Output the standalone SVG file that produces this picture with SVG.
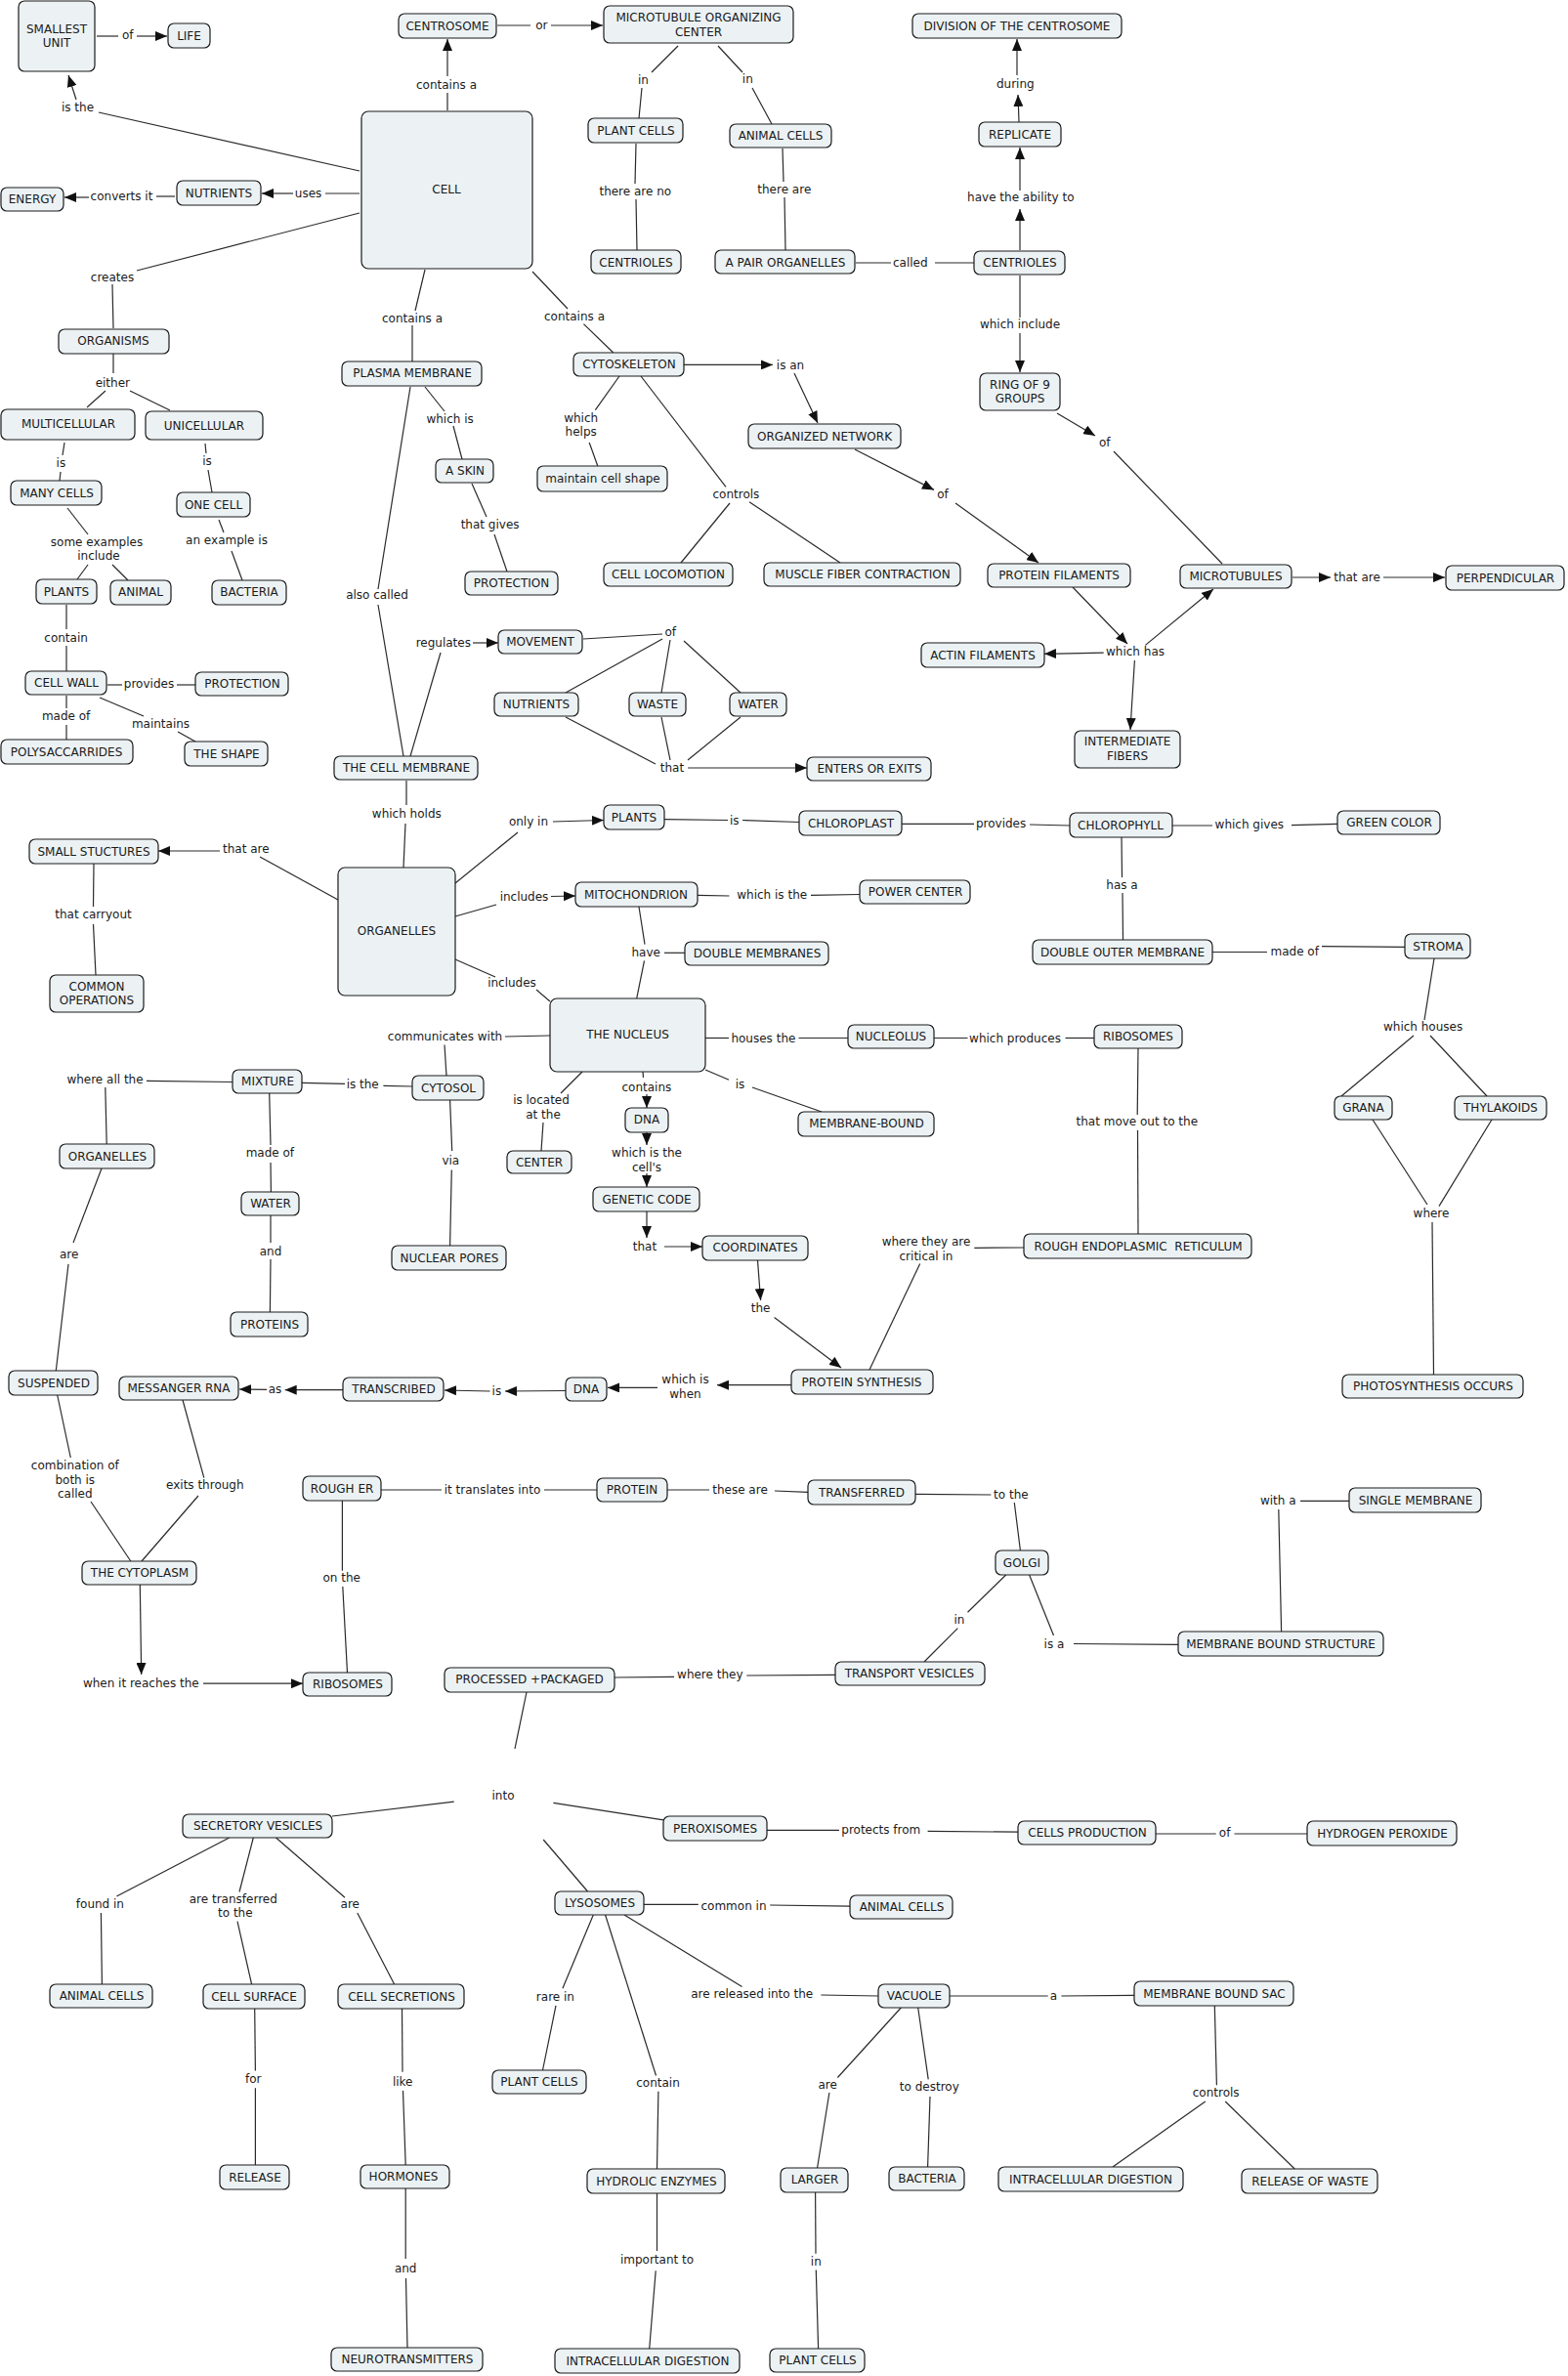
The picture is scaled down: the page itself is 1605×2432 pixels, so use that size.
<svg xmlns="http://www.w3.org/2000/svg" width="1605" height="2432" viewBox="0 0 1605 2432">
<style>
.n rect{fill:#ECF2F4;stroke:#1a1a1a;stroke-width:1.2}
text{font-family:"DejaVu Sans",Verdana,sans-serif;font-size:12px;fill:#1a1a1a;text-anchor:middle}
#connectors line{stroke:#2a2a2a;stroke-width:1.2;fill:none}
#connectors line.a{marker-end:url(#ah)}
</style>
<defs>
<marker id="ah" viewBox="0 0 12 10" refX="12" refY="5" markerWidth="12" markerHeight="10" markerUnits="userSpaceOnUse" orient="auto"><path d="M0,0 L12,5 L0,10 z" fill="#111"/></marker>
</defs>
<rect width="1605" height="2432" fill="#fff"/>
<g id="connectors">
<line x1="99" y1="37" x2="121" y2="37"/><line class="a" x1="140" y1="37" x2="171" y2="37"/>
<line x1="368" y1="175" x2="101" y2="115"/><line class="a" x1="78" y1="102" x2="70" y2="77"/>
<line x1="368" y1="198" x2="333" y2="198"/><line class="a" x1="300" y1="198" x2="268" y2="198"/>
<line x1="179" y1="201" x2="160" y2="201"/><line class="a" x1="91" y1="202" x2="66" y2="202"/>
<line x1="368" y1="218" x2="140" y2="277"/><line x1="115" y1="291" x2="116" y2="336"/>
<line x1="116" y1="362" x2="116" y2="382"/><line x1="108" y1="400" x2="89" y2="417"/><line x1="133" y1="400" x2="174" y2="420"/>
<line x1="66" y1="453" x2="64" y2="466"/><line x1="62" y1="483" x2="61" y2="492"/>
<line x1="210" y1="454" x2="211" y2="464"/><line x1="213" y1="481" x2="217" y2="504"/>
<line x1="69" y1="520" x2="90" y2="547"/><line x1="90" y1="578" x2="79" y2="593"/><line x1="115" y1="578" x2="131" y2="594"/>
<line x1="224" y1="532" x2="229" y2="545"/><line x1="237" y1="564" x2="248" y2="594"/>
<line x1="68" y1="619" x2="68" y2="644"/><line x1="68" y1="661" x2="68" y2="687"/>
<line x1="110" y1="701" x2="125" y2="701"/><line x1="181" y1="701" x2="200" y2="701"/>
<line x1="68" y1="712" x2="68" y2="725"/><line x1="68" y1="742" x2="68" y2="757"/>
<line x1="102" y1="714" x2="147" y2="733"/><line x1="182" y1="749" x2="200" y2="759"/>
<line x1="458" y1="113" x2="458" y2="95"/><line class="a" x1="458" y1="78" x2="458" y2="40"/>
<line x1="509" y1="26" x2="543" y2="26"/><line class="a" x1="564" y1="26" x2="617" y2="26"/>
<line x1="694" y1="47" x2="667" y2="74"/><line x1="657" y1="90" x2="654" y2="121"/>
<line x1="735" y1="47" x2="760" y2="74"/><line x1="770" y1="90" x2="790" y2="127"/>
<line x1="651" y1="147" x2="650" y2="188"/><line x1="651" y1="204" x2="652" y2="256"/>
<line x1="801" y1="152" x2="802" y2="186"/><line x1="803" y1="202" x2="804" y2="256"/>
<line x1="876" y1="269" x2="912" y2="269"/><line x1="957" y1="269" x2="997" y2="269"/>
<line class="a" x1="1044" y1="256" x2="1044" y2="214"/><line class="a" x1="1044" y1="195" x2="1044" y2="151"/>
<line class="a" x1="1043" y1="125" x2="1042" y2="97"/><line class="a" x1="1041" y1="77" x2="1041" y2="40"/>
<line x1="1044" y1="282" x2="1044" y2="325"/><line class="a" x1="1044" y1="341" x2="1044" y2="381"/>
<line class="a" x1="1082" y1="423" x2="1121" y2="446"/><line x1="1140" y1="462" x2="1251" y2="577"/>
<line class="a" x1="1323" y1="591" x2="1362" y2="591"/><line class="a" x1="1416" y1="591" x2="1479" y2="591"/>
<line x1="435" y1="276" x2="425" y2="318"/><line x1="422" y1="333" x2="422" y2="370"/>
<line x1="435" y1="396" x2="455" y2="421"/><line x1="464" y1="436" x2="473" y2="470"/>
<line x1="483" y1="495" x2="498" y2="529"/><line x1="506" y1="547" x2="519" y2="585"/>
<line x1="420" y1="396" x2="387" y2="603"/><line x1="387" y1="619" x2="413" y2="774"/>
<line x1="420" y1="774" x2="451" y2="668"/><line class="a" x1="484" y1="658" x2="510" y2="658"/>
<line x1="597" y1="654" x2="678" y2="649"/><line x1="678" y1="654" x2="579" y2="709"/>
<line x1="686" y1="655" x2="677" y2="709"/><line x1="700" y1="656" x2="758" y2="709"/>
<line x1="579" y1="734" x2="671" y2="782"/><line x1="677" y1="734" x2="686" y2="778"/><line x1="758" y1="734" x2="704" y2="778"/>
<line class="a" x1="704" y1="786" x2="826" y2="786"/>
<line x1="416" y1="799" x2="416" y2="824"/><line x1="415" y1="843" x2="413" y2="888"/>
<line x1="346" y1="921" x2="266" y2="877"/><line class="a" x1="225" y1="871" x2="162" y2="871"/>
<line x1="96" y1="884" x2="95.5" y2="928"/><line x1="95.5" y1="946" x2="98" y2="998"/>
<line x1="466" y1="904" x2="530" y2="852"/><line class="a" x1="566" y1="841" x2="618" y2="839.5"/>
<line x1="680" y1="838.7" x2="745" y2="839.5"/><line x1="760" y1="839.5" x2="818" y2="841.5"/>
<line x1="923" y1="843.4" x2="997" y2="843.4"/><line x1="1054" y1="844" x2="1095" y2="845"/>
<line x1="1200" y1="845" x2="1241" y2="845"/><line x1="1322" y1="844.6" x2="1369" y2="843.4"/>
<line x1="1148" y1="857" x2="1148.5" y2="898"/><line x1="1149" y1="914" x2="1149.5" y2="962"/>
<line x1="1241" y1="974.5" x2="1297" y2="974.5"/><line x1="1353" y1="968.7" x2="1438" y2="969.4"/>
<line x1="1468" y1="981" x2="1458" y2="1044"/><line x1="1447" y1="1060" x2="1373" y2="1122"/><line x1="1464" y1="1060" x2="1522" y2="1122"/>
<line x1="1405" y1="1146" x2="1461" y2="1233"/><line x1="1527" y1="1146" x2="1473" y2="1234.6"/>
<line x1="1466" y1="1251" x2="1467.5" y2="1407"/>
<line x1="466" y1="938" x2="508" y2="926"/><line class="a" x1="564" y1="917.5" x2="589" y2="917"/>
<line x1="714" y1="916.3" x2="746.5" y2="917"/><line x1="830" y1="916.3" x2="880" y2="915.5"/>
<line x1="654" y1="928" x2="660" y2="966.7"/><line x1="659.5" y1="983.4" x2="651.7" y2="1022"/>
<line x1="680" y1="975.3" x2="701" y2="975.3"/>
<line x1="466" y1="982" x2="507" y2="1000"/><line x1="549" y1="1013" x2="563" y2="1025"/>
<line x1="517" y1="1061" x2="563" y2="1060"/><line x1="455" y1="1069.5" x2="457" y2="1101"/>
<line x1="722" y1="1062.5" x2="746" y2="1062.5"/><line x1="817.5" y1="1062.5" x2="868" y2="1062.5"/>
<line x1="956" y1="1062.5" x2="990.5" y2="1062.5"/><line x1="1090.5" y1="1062.5" x2="1120" y2="1062.5"/>
<line x1="1165" y1="1073" x2="1164.2" y2="1141"/><line x1="1164.5" y1="1157" x2="1165" y2="1263"/>
<line x1="722" y1="1095" x2="746" y2="1105.2"/><line x1="770" y1="1113" x2="841" y2="1138"/>
<line x1="658" y1="1097" x2="658.5" y2="1103"/>
<line class="a" x1="662" y1="1120" x2="662" y2="1134"/><line class="a" x1="662" y1="1159" x2="662" y2="1172"/><line class="a" x1="662" y1="1201" x2="662" y2="1215"/>
<line x1="596" y1="1097" x2="574" y2="1119"/><line x1="556" y1="1149" x2="554" y2="1178"/>
<line x1="309" y1="1108.3" x2="353" y2="1109.4"/><line x1="392.4" y1="1111.3" x2="422" y2="1112"/>
<line x1="238" y1="1107.5" x2="150" y2="1106.3"/><line x1="107.8" y1="1113" x2="109.2" y2="1171"/>
<line x1="275.7" y1="1119" x2="277" y2="1172"/><line x1="277" y1="1190" x2="277.4" y2="1220"/>
<line x1="460.6" y1="1126" x2="462.7" y2="1178"/><line x1="462.3" y1="1197.5" x2="460.6" y2="1275"/>
<line x1="104" y1="1196" x2="75" y2="1272"/><line x1="70" y1="1294" x2="57.3" y2="1403"/>
<line x1="277" y1="1244" x2="277" y2="1272"/><line x1="277" y1="1289" x2="276.4" y2="1343"/>
<line class="a" x1="662" y1="1240" x2="662" y2="1267"/><line class="a" x1="680" y1="1276" x2="719" y2="1276"/>
<line class="a" x1="775.5" y1="1290" x2="778.6" y2="1331"/><line class="a" x1="792.6" y1="1348.6" x2="861" y2="1400"/>
<line x1="1048" y1="1277" x2="997.3" y2="1277.3"/><line x1="941.7" y1="1293.6" x2="890" y2="1402"/>
<line class="a" x1="810" y1="1417.7" x2="734" y2="1417.7"/><line class="a" x1="673" y1="1420.4" x2="622" y2="1420.4"/>
<line class="a" x1="579" y1="1423.5" x2="517" y2="1424"/><line class="a" x1="501.6" y1="1424" x2="455" y2="1423"/>
<line class="a" x1="351" y1="1422.7" x2="291.7" y2="1422.7"/><line class="a" x1="273" y1="1422.3" x2="245" y2="1422"/>
<line x1="58.7" y1="1428" x2="72.3" y2="1492"/><line x1="93" y1="1537" x2="133.8" y2="1598"/>
<line x1="187" y1="1433" x2="208.8" y2="1512.7"/><line x1="203" y1="1531" x2="145" y2="1598"/>
<line class="a" x1="143.3" y1="1622" x2="144.7" y2="1714"/><line class="a" x1="208" y1="1723.2" x2="310" y2="1723.2"/>
<line x1="350.4" y1="1536" x2="350.4" y2="1607.7"/><line x1="350.8" y1="1624" x2="355.5" y2="1712"/>
<line x1="390" y1="1525" x2="452" y2="1525"/><line x1="557" y1="1525" x2="611" y2="1525"/>
<line x1="683" y1="1525" x2="726" y2="1525"/><line x1="793" y1="1526" x2="827" y2="1527.4"/>
<line x1="937" y1="1529.3" x2="1014.4" y2="1530"/><line x1="1038.3" y1="1538" x2="1044.4" y2="1587"/>
<line x1="1029.7" y1="1612" x2="990.5" y2="1650.3"/><line x1="980.3" y1="1666.6" x2="946" y2="1701"/>
<line x1="1053.6" y1="1612" x2="1078.5" y2="1674"/><line x1="1099" y1="1682.5" x2="1206" y2="1683.3"/>
<line x1="1331" y1="1536.3" x2="1381" y2="1536.3"/><line x1="1308.8" y1="1545" x2="1311.6" y2="1670"/>
<line x1="855" y1="1714.3" x2="764.3" y2="1715"/><line x1="690" y1="1716.3" x2="629" y2="1717"/>
<line x1="539" y1="1732" x2="527" y2="1790"/>
<line x1="464.7" y1="1844.2" x2="340" y2="1859"/><line x1="566.4" y1="1845.3" x2="679" y2="1862.8"/>
<line x1="556.2" y1="1883" x2="601.5" y2="1936"/>
<line x1="234.7" y1="1881" x2="119.4" y2="1941"/><line x1="103.4" y1="1958" x2="104.4" y2="2031"/>
<line x1="259.3" y1="1881" x2="245" y2="1936.5"/><line x1="243" y1="1966.7" x2="257.6" y2="2031"/>
<line x1="282.5" y1="1881" x2="353" y2="1942.3"/><line x1="365.8" y1="1958" x2="403.6" y2="2031"/>
<line x1="260.7" y1="2056" x2="261.4" y2="2119.5"/><line x1="261.4" y1="2137.3" x2="261.4" y2="2216"/>
<line x1="411.5" y1="2056" x2="412" y2="2120.7"/><line x1="412.5" y1="2140" x2="415.2" y2="2216"/>
<line x1="415.2" y1="2240" x2="415.2" y2="2312"/><line x1="415.5" y1="2332" x2="417" y2="2403"/>
<line x1="785" y1="1873.3" x2="859" y2="1873.3"/><line x1="949.6" y1="1874.4" x2="1042" y2="1875.2"/>
<line x1="1183" y1="1877" x2="1244.7" y2="1877"/><line x1="1263.5" y1="1877" x2="1338" y2="1877"/>
<line x1="659" y1="1949.3" x2="714.8" y2="1949.3"/><line x1="788.2" y1="1950" x2="870" y2="1951.2"/>
<line x1="607.3" y1="1960" x2="575.9" y2="2035.3"/><line x1="569" y1="2052.8" x2="555.5" y2="2119"/>
<line x1="619.6" y1="1960" x2="671.5" y2="2124.5"/><line x1="673.9" y1="2140.8" x2="672.5" y2="2220"/>
<line x1="672.5" y1="2245" x2="672.5" y2="2304"/><line x1="671.2" y1="2324.3" x2="664.7" y2="2404"/>
<line x1="639" y1="1960" x2="759.5" y2="2033.4"/><line x1="840.4" y1="2042" x2="899" y2="2043"/>
<line x1="972" y1="2043" x2="1072.7" y2="2043"/><line x1="1086.4" y1="2043" x2="1161" y2="2042.3"/>
<line x1="1243.3" y1="2053" x2="1245.4" y2="2134.2"/><line x1="1233.8" y1="2151" x2="1139" y2="2218"/>
<line x1="1254.2" y1="2151" x2="1325.2" y2="2220"/>
<line x1="922.3" y1="2055" x2="857.4" y2="2126.5"/><line x1="848.9" y1="2142" x2="836.6" y2="2219"/>
<line x1="939.7" y1="2055" x2="950.2" y2="2128.4"/><line x1="952" y1="2146" x2="949.6" y2="2218"/>
<line x1="834.6" y1="2244" x2="835" y2="2306.8"/><line x1="835.3" y1="2323.5" x2="837.6" y2="2404"/>
<line x1="545" y1="278" x2="581" y2="316"/><line x1="597.4" y1="331.6" x2="627.8" y2="361"/>
<line class="a" x1="700" y1="373.4" x2="791" y2="373.4"/><line class="a" x1="813" y1="382" x2="837" y2="433"/>
<line x1="634" y1="385" x2="609.4" y2="419.6"/><line x1="603.2" y1="453" x2="611.8" y2="477"/>
<line x1="656" y1="385" x2="743" y2="498.3"/><line x1="747" y1="515" x2="697" y2="576"/><line x1="767" y1="513.8" x2="860" y2="576"/>
<line class="a" x1="875" y1="460" x2="956" y2="501.4"/><line class="a" x1="978" y1="515" x2="1063" y2="576"/>
<line class="a" x1="1098" y1="601" x2="1154" y2="659"/><line class="a" x1="1172.4" y1="660.4" x2="1242" y2="603"/>
<line class="a" x1="1129.7" y1="668.1" x2="1069" y2="669.3"/><line class="a" x1="1161.4" y1="676" x2="1157" y2="747"/>
</g>
<g id="labels">
<text x="130.7" y="40">of</text>
<text x="79.5" y="114">is the</text>
<text x="124.5" y="204.5">converts it</text>
<text x="315.6" y="202">uses</text>
<text x="457" y="90.5">contains a</text>
<text x="554.4" y="30">or</text>
<text x="658.5" y="86">in</text>
<text x="765.3" y="85.4">in</text>
<text x="1039.3" y="90">during</text>
<text x="650.3" y="200">there are no</text>
<text x="802.8" y="198">there are</text>
<text x="1044.8" y="206.4">have the ability to</text>
<text x="931.8" y="272.7">called</text>
<text x="115" y="287.5">creates</text>
<text x="422" y="330">contains a</text>
<text x="588" y="328">contains a</text>
<text x="1044" y="336">which include</text>
<text x="809" y="378">is an</text>
<text x="115.3" y="395.7">either</text>
<text x="460.6" y="433">which is</text>
<text x="594.7" y="431.7">which</text>
<text x="594.7" y="446.1">helps</text>
<text x="1130.7" y="457">of</text>
<text x="62.4" y="478">is</text>
<text x="212" y="476">is</text>
<text x="753.4" y="510">controls</text>
<text x="965" y="510">of</text>
<text x="501.6" y="541">that gives</text>
<text x="232" y="556.6">an example is</text>
<text x="99" y="559.3">some examples</text>
<text x="101" y="573.3">include</text>
<text x="1389" y="595.4">that are</text>
<text x="386" y="613.4">also called</text>
<text x="67.6" y="656.6">contain</text>
<text x="453.8" y="661.6">regulates</text>
<text x="686.2" y="651">of</text>
<text x="1162" y="671.3">which has</text>
<text x="152.5" y="704">provides</text>
<text x="67.6" y="737.3">made of</text>
<text x="164.5" y="745">maintains</text>
<text x="688" y="789.6">that</text>
<text x="416.3" y="837">which holds</text>
<text x="541" y="844.7">only in</text>
<text x="751.7" y="844">is</text>
<text x="1024.6" y="846.6">provides</text>
<text x="1278.8" y="847.8">which gives</text>
<text x="251.8" y="872.6">that are</text>
<text x="1148.5" y="909.8">has a</text>
<text x="536.5" y="921.5">includes</text>
<text x="790.2" y="920.3">which is the</text>
<text x="95.5" y="939.7">that carryout</text>
<text x="1325.2" y="977.7">made of</text>
<text x="661.2" y="978.5">have</text>
<text x="524" y="1010.3">includes</text>
<text x="1456.6" y="1055.3">which houses</text>
<text x="455.5" y="1065">communicates with</text>
<text x="781.4" y="1066.5">houses the</text>
<text x="1039" y="1066.5">which produces</text>
<text x="107.5" y="1109.2">where all the</text>
<text x="371.2" y="1114.2">is the</text>
<text x="757.5" y="1114.2">is</text>
<text x="661.9" y="1117">contains</text>
<text x="554" y="1130">is located</text>
<text x="556" y="1145">at the</text>
<text x="1163.8" y="1152.2">that move out to the</text>
<text x="276.4" y="1184">made of</text>
<text x="662" y="1184">which is the</text>
<text x="662" y="1198.7">cell's</text>
<text x="461.3" y="1192">via</text>
<text x="1465" y="1246.4">where</text>
<text x="948" y="1274.7">where they are</text>
<text x="948" y="1289.8">critical in</text>
<text x="660" y="1280">that</text>
<text x="277" y="1285">and</text>
<text x="70.6" y="1288">are</text>
<text x="778.6" y="1343.3">the</text>
<text x="701.5" y="1415.8">which is</text>
<text x="701.5" y="1430.6">when</text>
<text x="508.4" y="1428.2">is</text>
<text x="281.5" y="1426.3">as</text>
<text x="76.8" y="1504">combination of</text>
<text x="76.8" y="1518.6">both is</text>
<text x="76.8" y="1533">called</text>
<text x="209.8" y="1523.7">exits through</text>
<text x="504" y="1529">it translates into</text>
<text x="757.5" y="1529">these are</text>
<text x="1034.9" y="1534">to the</text>
<text x="1308.2" y="1540">with a</text>
<text x="349.7" y="1619.4">on the</text>
<text x="982" y="1662">in</text>
<text x="1079" y="1686.5">is a</text>
<text x="726.8" y="1717.5">where they</text>
<text x="144.3" y="1727">when it reaches the</text>
<text x="515" y="1841.6">into</text>
<text x="901.8" y="1877.3">protects from</text>
<text x="1253.6" y="1880.4">of</text>
<text x="102.4" y="1953.3">found in</text>
<text x="238.8" y="1947.8">are transferred</text>
<text x="240.8" y="1962.2">to the</text>
<text x="358.3" y="1953.3">are</text>
<text x="751" y="1954.8">common in</text>
<text x="769.7" y="2045.2">are released into the</text>
<text x="1078.5" y="2047">a</text>
<text x="568.4" y="2048">rare in</text>
<text x="259.3" y="2131.6">for</text>
<text x="412.2" y="2134.7">like</text>
<text x="673.5" y="2136.3">contain</text>
<text x="847.2" y="2137.5">are</text>
<text x="951.3" y="2140.2">to destroy</text>
<text x="1244.7" y="2146">controls</text>
<text x="672.5" y="2317.4">important to</text>
<text x="835.3" y="2318.6">in</text>
<text x="415.2" y="2326.3">and</text>
</g>
<g id="n1" class="n"><rect x="19" y="1" width="78" height="72" rx="6"/><text x="58" y="34">SMALLEST</text><text x="58" y="48">UNIT</text></g>
<g id="n2" class="n"><rect x="172" y="24" width="43" height="25" rx="6"/><text x="193.5" y="41">LIFE</text></g>
<g id="n3" class="n"><rect x="408" y="14" width="100" height="25" rx="6"/><text x="458" y="30.5">CENTROSOME</text></g>
<g id="n4" class="n"><rect x="618" y="6" width="194" height="38" rx="6"/><text x="715" y="22">MICROTUBULE ORGANIZING</text><text x="715" y="36.5">CENTER</text></g>
<g id="n5" class="n"><rect x="934" y="14" width="214" height="25" rx="6"/><text x="1041" y="30.5">DIVISION OF THE CENTROSOME</text></g>
<g id="n6" class="n"><rect x="370" y="114" width="175" height="161" rx="7"/><text x="457" y="198">CELL</text></g>
<g id="n7" class="n"><rect x="1" y="192" width="64" height="24" rx="6"/><text x="33" y="208">ENERGY</text></g>
<g id="n8" class="n"><rect x="181" y="185" width="86" height="25" rx="6"/><text x="224" y="202">NUTRIENTS</text></g>
<g id="n9" class="n"><rect x="602" y="121" width="97" height="25" rx="6"/><text x="651" y="138">PLANT CELLS</text></g>
<g id="n10" class="n"><rect x="747" y="127" width="104" height="24" rx="6"/><text x="799" y="143">ANIMAL CELLS</text></g>
<g id="n11" class="n"><rect x="1002" y="125" width="84" height="25" rx="6"/><text x="1044" y="142">REPLICATE</text></g>
<g id="n12" class="n"><rect x="605" y="256" width="92" height="24" rx="6"/><text x="651" y="272.5">CENTRIOLES</text></g>
<g id="n13" class="n"><rect x="732" y="256" width="143" height="24" rx="6"/><text x="804" y="272.5">A PAIR ORGANELLES</text></g>
<g id="n14" class="n"><rect x="997" y="257" width="93" height="24" rx="6"/><text x="1044" y="273">CENTRIOLES</text></g>
<g id="n15" class="n"><rect x="60" y="337" width="113" height="25" rx="6"/><text x="116" y="353">ORGANISMS</text></g>
<g id="n16" class="n"><rect x="350" y="370" width="143" height="25" rx="6"/><text x="422" y="386">PLASMA MEMBRANE</text></g>
<g id="n17" class="n"><rect x="587" y="361" width="113" height="24" rx="6"/><text x="644" y="377">CYTOSKELETON</text></g>
<g id="n18" class="n"><rect x="1003" y="382" width="82" height="38" rx="6"/><text x="1044" y="398">RING OF 9</text><text x="1044" y="412">GROUPS</text></g>
<g id="n19" class="n"><rect x="1" y="419" width="137" height="31" rx="6"/><text x="70" y="438">MULTICELLULAR</text></g>
<g id="n20" class="n"><rect x="149" y="421" width="120" height="29" rx="6"/><text x="209" y="440">UNICELLULAR</text></g>
<g id="n21" class="n"><rect x="766" y="434" width="156" height="25" rx="6"/><text x="844" y="451">ORGANIZED NETWORK</text></g>
<g id="n22" class="n"><rect x="446" y="470" width="59" height="24" rx="6"/><text x="476" y="486">A SKIN</text></g>
<g id="n23" class="n"><rect x="550" y="477" width="133" height="26" rx="6"/><text x="617" y="494">maintain cell shape</text></g>
<g id="n24" class="n"><rect x="11" y="492" width="93" height="25" rx="6"/><text x="58" y="509">MANY CELLS</text></g>
<g id="n25" class="n"><rect x="181" y="504" width="75" height="25" rx="6"/><text x="218.5" y="521">ONE CELL</text></g>
<g id="n26" class="n"><rect x="618" y="576" width="132" height="24" rx="6"/><text x="684" y="592">CELL LOCOMOTION</text></g>
<g id="n27" class="n"><rect x="782" y="576" width="201" height="24" rx="6"/><text x="883" y="592">MUSCLE FIBER CONTRACTION</text></g>
<g id="n28" class="n"><rect x="1011" y="577" width="146" height="24" rx="6"/><text x="1084" y="593">PROTEIN FILAMENTS</text></g>
<g id="n29" class="n"><rect x="1208" y="578" width="114" height="24" rx="6"/><text x="1265" y="594">MICROTUBULES</text></g>
<g id="n30" class="n"><rect x="1480" y="579" width="121" height="25" rx="6"/><text x="1541" y="595.5">PERPENDICULAR</text></g>
<g id="n31" class="n"><rect x="37" y="593" width="62" height="25" rx="6"/><text x="68" y="609.5">PLANTS</text></g>
<g id="n32" class="n"><rect x="113" y="594" width="62" height="25" rx="6"/><text x="144" y="610">ANIMAL</text></g>
<g id="n33" class="n"><rect x="217" y="594" width="76" height="25" rx="6"/><text x="255" y="610">BACTERIA</text></g>
<g id="n34" class="n"><rect x="476" y="585" width="95" height="24" rx="6"/><text x="523.5" y="601">PROTECTION</text></g>
<g id="n35" class="n"><rect x="510" y="645" width="86" height="24" rx="6"/><text x="553" y="661">MOVEMENT</text></g>
<g id="n36" class="n"><rect x="943" y="658" width="126" height="25" rx="6"/><text x="1006" y="675">ACTIN FILAMENTS</text></g>
<g id="n37" class="n"><rect x="26" y="687" width="83" height="24" rx="6"/><text x="68" y="703">CELL WALL</text></g>
<g id="n38" class="n"><rect x="200" y="688" width="95" height="24" rx="6"/><text x="248" y="704">PROTECTION</text></g>
<g id="n39" class="n"><rect x="506" y="709" width="86" height="24" rx="6"/><text x="549" y="725">NUTRIENTS</text></g>
<g id="n40" class="n"><rect x="644" y="709" width="58" height="24" rx="6"/><text x="673" y="725">WASTE</text></g>
<g id="n41" class="n"><rect x="747" y="709" width="58" height="24" rx="6"/><text x="776" y="725">WATER</text></g>
<g id="n42" class="n"><rect x="1100" y="748" width="108" height="38" rx="6"/><text x="1154" y="763">INTERMEDIATE</text><text x="1154" y="778">FIBERS</text></g>
<g id="n43" class="n"><rect x="1" y="757" width="135" height="25" rx="6"/><text x="68" y="774">POLYSACCARRIDES</text></g>
<g id="n44" class="n"><rect x="189" y="759" width="85" height="25" rx="6"/><text x="232" y="776">THE SHAPE</text></g>
<g id="n45" class="n"><rect x="342" y="774" width="147" height="24" rx="6"/><text x="416" y="790">THE CELL MEMBRANE</text></g>
<g id="n46" class="n"><rect x="826" y="775" width="127" height="24" rx="6"/><text x="890" y="791">ENTERS OR EXITS</text></g>
<g id="n47" class="n"><rect x="618" y="824" width="62" height="25" rx="6"/><text x="649" y="841">PLANTS</text></g>
<g id="n48" class="n"><rect x="818" y="830" width="105" height="25" rx="6"/><text x="871" y="847">CHLOROPLAST</text></g>
<g id="n49" class="n"><rect x="1095" y="832" width="105" height="25" rx="6"/><text x="1147" y="849">CHLOROPHYLL</text></g>
<g id="n50" class="n"><rect x="1369" y="830" width="105" height="24" rx="6"/><text x="1422" y="846">GREEN COLOR</text></g>
<g id="n51" class="n"><rect x="30" y="859" width="132" height="25" rx="6"/><text x="96" y="876">SMALL STUCTURES</text></g>
<g id="n52" class="n"><rect x="346" y="888" width="120" height="131" rx="7"/><text x="406" y="957">ORGANELLES</text></g>
<g id="n53" class="n"><rect x="589" y="903" width="125" height="25" rx="6"/><text x="651" y="920">MITOCHONDRION</text></g>
<g id="n54" class="n"><rect x="880" y="901" width="113" height="24" rx="6"/><text x="937" y="917">POWER CENTER</text></g>
<g id="n55" class="n"><rect x="701" y="964" width="147" height="24" rx="6"/><text x="775" y="980">DOUBLE MEMBRANES</text></g>
<g id="n56" class="n"><rect x="1057" y="962" width="184" height="25" rx="6"/><text x="1149" y="978.5">DOUBLE OUTER MEMBRANE</text></g>
<g id="n57" class="n"><rect x="1438" y="956" width="67" height="25" rx="6"/><text x="1472" y="973">STROMA</text></g>
<g id="n58" class="n"><rect x="51" y="998" width="96" height="38" rx="6"/><text x="99" y="1013.5">COMMON</text><text x="99" y="1028">OPERATIONS</text></g>
<g id="n59" class="n"><rect x="563" y="1022" width="159" height="75" rx="7"/><text x="642.5" y="1063">THE NUCLEUS</text></g>
<g id="n60" class="n"><rect x="868" y="1049" width="88" height="24" rx="6"/><text x="912" y="1065">NUCLEOLUS</text></g>
<g id="n61" class="n"><rect x="1120" y="1049" width="90" height="24" rx="6"/><text x="1165" y="1065">RIBOSOMES</text></g>
<g id="n62" class="n"><rect x="238" y="1095" width="71" height="24" rx="6"/><text x="274" y="1111">MIXTURE</text></g>
<g id="n63" class="n"><rect x="422" y="1101" width="73" height="25" rx="6"/><text x="459" y="1118">CYTOSOL</text></g>
<g id="n64" class="n"><rect x="1366" y="1122" width="59" height="24" rx="6"/><text x="1395.5" y="1138">GRANA</text></g>
<g id="n65" class="n"><rect x="1489" y="1122" width="94" height="24" rx="6"/><text x="1536" y="1138">THYLAKOIDS</text></g>
<g id="n66" class="n"><rect x="640" y="1134" width="44" height="25" rx="6"/><text x="662" y="1150">DNA</text></g>
<g id="n67" class="n"><rect x="817" y="1138" width="139" height="25" rx="6"/><text x="887" y="1154">MEMBRANE-BOUND</text></g>
<g id="n68" class="n"><rect x="61" y="1171" width="97" height="25" rx="6"/><text x="110" y="1188">ORGANELLES</text></g>
<g id="n69" class="n"><rect x="519" y="1178" width="66" height="23" rx="6"/><text x="552" y="1194">CENTER</text></g>
<g id="n70" class="n"><rect x="607" y="1215" width="109" height="25" rx="6"/><text x="662" y="1231.5">GENETIC CODE</text></g>
<g id="n71" class="n"><rect x="247" y="1220" width="59" height="24" rx="6"/><text x="277" y="1236">WATER</text></g>
<g id="n72" class="n"><rect x="719" y="1265" width="108" height="25" rx="6"/><text x="773" y="1281">COORDINATES</text></g>
<g id="n73" class="n"><rect x="1048" y="1263" width="233" height="25" rx="6"/><text x="1165" y="1280" xml:space="preserve">ROUGH ENDOPLASMIC  RETICULUM</text></g>
<g id="n74" class="n"><rect x="401" y="1275" width="117" height="25" rx="6"/><text x="460" y="1292">NUCLEAR PORES</text></g>
<g id="n75" class="n"><rect x="236" y="1343" width="79" height="25" rx="6"/><text x="276" y="1360">PROTEINS</text></g>
<g id="n76" class="n"><rect x="9" y="1403" width="91" height="25" rx="6"/><text x="55" y="1420">SUSPENDED</text></g>
<g id="n77" class="n"><rect x="122" y="1409" width="122" height="24" rx="6"/><text x="183" y="1425">MESSANGER RNA</text></g>
<g id="n78" class="n"><rect x="351" y="1410" width="103" height="24" rx="6"/><text x="403" y="1426">TRANSCRIBED</text></g>
<g id="n79" class="n"><rect x="579" y="1410" width="42" height="24" rx="6"/><text x="600" y="1426">DNA</text></g>
<g id="n80" class="n"><rect x="810" y="1402" width="145" height="25" rx="6"/><text x="882" y="1419">PROTEIN SYNTHESIS</text></g>
<g id="n81" class="n"><rect x="1374" y="1407" width="185" height="24" rx="6"/><text x="1467" y="1423">PHOTOSYNTHESIS OCCURS</text></g>
<g id="n82" class="n"><rect x="310" y="1511" width="80" height="25" rx="6"/><text x="350" y="1528">ROUGH ER</text></g>
<g id="n83" class="n"><rect x="611" y="1513" width="72" height="24" rx="6"/><text x="647" y="1529">PROTEIN</text></g>
<g id="n84" class="n"><rect x="827" y="1515" width="110" height="25" rx="6"/><text x="882" y="1532">TRANSFERRED</text></g>
<g id="n85" class="n"><rect x="1381" y="1523" width="135" height="25" rx="6"/><text x="1449" y="1540">SINGLE MEMBRANE</text></g>
<g id="n86" class="n"><rect x="1019" y="1587" width="54" height="25" rx="6"/><text x="1046" y="1604">GOLGI</text></g>
<g id="n87" class="n"><rect x="84" y="1598" width="117" height="24" rx="6"/><text x="143" y="1614">THE CYTOPLASM</text></g>
<g id="n88" class="n"><rect x="1206" y="1670" width="210" height="25" rx="6"/><text x="1311" y="1687">MEMBRANE BOUND STRUCTURE</text></g>
<g id="n89" class="n"><rect x="855" y="1701" width="153" height="24" rx="6"/><text x="931" y="1717">TRANSPORT VESICLES</text></g>
<g id="n90" class="n"><rect x="455" y="1707" width="174" height="25" rx="6"/><text x="542" y="1723">PROCESSED +PACKAGED</text></g>
<g id="n91" class="n"><rect x="310" y="1712" width="91" height="24" rx="6"/><text x="356" y="1728">RIBOSOMES</text></g>
<g id="n92" class="n"><rect x="187" y="1857" width="153" height="24" rx="6"/><text x="264" y="1873">SECRETORY VESICLES</text></g>
<g id="n93" class="n"><rect x="679" y="1859" width="106" height="25" rx="6"/><text x="732" y="1875.5">PEROXISOMES</text></g>
<g id="n94" class="n"><rect x="1042" y="1864" width="141" height="24" rx="6"/><text x="1113" y="1880">CELLS PRODUCTION</text></g>
<g id="n95" class="n"><rect x="1338" y="1864" width="153" height="25" rx="6"/><text x="1415" y="1881">HYDROGEN PEROXIDE</text></g>
<g id="n96" class="n"><rect x="568" y="1936" width="91" height="24" rx="6"/><text x="614" y="1952">LYSOSOMES</text></g>
<g id="n97" class="n"><rect x="870" y="1940" width="105" height="24" rx="6"/><text x="923" y="1956">ANIMAL CELLS</text></g>
<g id="n98" class="n"><rect x="51" y="2031" width="105" height="24" rx="6"/><text x="104" y="2047">ANIMAL CELLS</text></g>
<g id="n99" class="n"><rect x="208" y="2031" width="104" height="25" rx="6"/><text x="260" y="2048">CELL SURFACE</text></g>
<g id="n100" class="n"><rect x="346" y="2031" width="129" height="25" rx="6"/><text x="411" y="2048">CELL SECRETIONS</text></g>
<g id="n101" class="n"><rect x="899" y="2031" width="73" height="24" rx="6"/><text x="936" y="2047">VACUOLE</text></g>
<g id="n102" class="n"><rect x="1161" y="2028" width="163" height="25" rx="6"/><text x="1243" y="2045">MEMBRANE BOUND SAC</text></g>
<g id="n103" class="n"><rect x="504" y="2119" width="96" height="24" rx="6"/><text x="552" y="2135">PLANT CELLS</text></g>
<g id="n104" class="n"><rect x="225" y="2216" width="71" height="25" rx="6"/><text x="261" y="2233">RELEASE</text></g>
<g id="n105" class="n"><rect x="369" y="2216" width="91" height="24" rx="6"/><text x="413" y="2232">HORMONES</text></g>
<g id="n106" class="n"><rect x="601" y="2220" width="141" height="25" rx="6"/><text x="672" y="2237">HYDROLIC ENZYMES</text></g>
<g id="n107" class="n"><rect x="799" y="2219" width="69" height="25" rx="6"/><text x="834" y="2235">LARGER</text></g>
<g id="n108" class="n"><rect x="910" y="2218" width="77" height="24" rx="6"/><text x="949" y="2234">BACTERIA</text></g>
<g id="n109" class="n"><rect x="1022" y="2218" width="189" height="25" rx="6"/><text x="1116.5" y="2234.5">INTRACELLULAR DIGESTION</text></g>
<g id="n110" class="n"><rect x="1271" y="2220" width="139" height="25" rx="6"/><text x="1341" y="2236.5">RELEASE OF WASTE</text></g>
<g id="n111" class="n"><rect x="339" y="2403" width="155" height="24" rx="6"/><text x="417" y="2419">NEUROTRANSMITTERS</text></g>
<g id="n112" class="n"><rect x="568" y="2404" width="189" height="25" rx="6"/><text x="663" y="2421">INTRACELLULAR DIGESTION</text></g>
<g id="n113" class="n"><rect x="788" y="2404" width="97" height="24" rx="6"/><text x="837" y="2420">PLANT CELLS</text></g>
</svg>
